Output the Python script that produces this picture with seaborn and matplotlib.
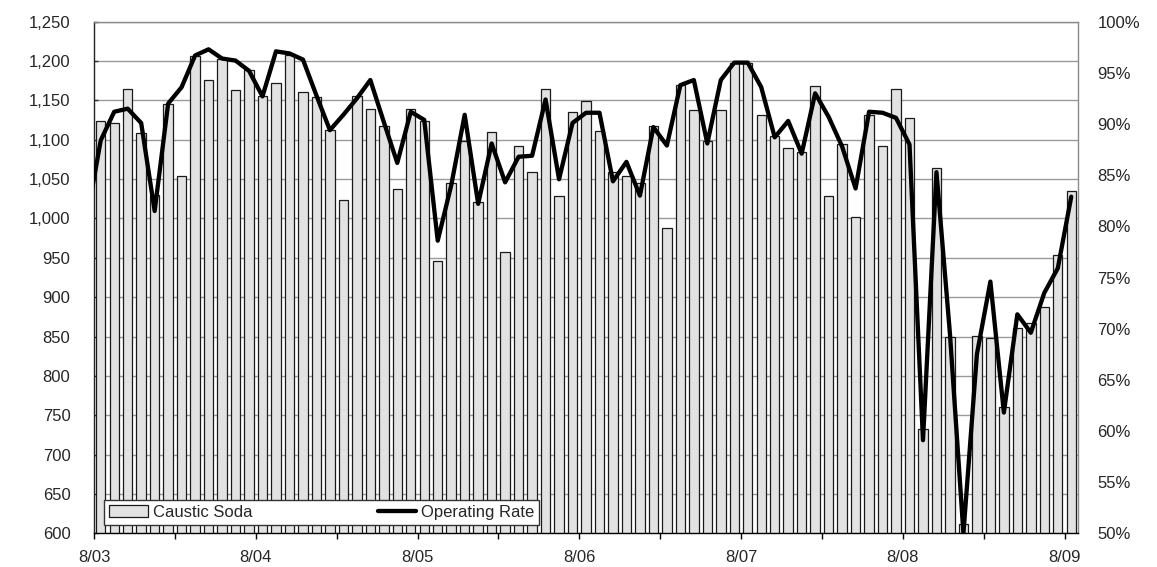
import numpy as np
import pandas as pd
import matplotlib
matplotlib.use("Agg")
import matplotlib.pyplot as plt
import seaborn as sns
from matplotlib.patches import Patch
from matplotlib.lines import Line2D

# ---------------- data ----------------
months = [p.strftime("%-m/%y") for p in pd.period_range("2003-08", periods=73, freq="M")]

caustic_soda = [1124, 1121, 1164, 1109, 1030, 1146, 1054, 1206, 1176, 1202, 1163, 1188,
                1155, 1172, 1208, 1161, 1154, 1113, 1024, 1155, 1139, 1118, 1037, 1139,
                1124, 946, 1045, 1098, 1021, 1110, 958, 1092, 1059, 1165, 1029, 1135,
                1149, 1111, 1059, 1054, 1045, 1118, 988, 1169, 1138, 1098, 1138, 1198,
                1198, 1131, 1105, 1090, 1084, 1168, 1028, 1095, 1002, 1131, 1092, 1164,
                1128, 732, 1064, 849, 612, 851, 848, 760, 861, 867, 887, 954,
                1035]

# operating rate (%), the series starts one month before the first bar (7/03)
rate_prior = [81.0]
operating_rate = [88.4, 91.2, 91.5, 90.1, 81.5, 92.0, 93.6, 96.7, 97.3, 96.4, 96.2, 95.2,
                  92.7, 97.1, 96.9, 96.3, 92.8, 89.4, 90.9, 92.5, 94.3, 90.2, 86.2, 91.2,
                  90.4, 78.6, 84.0, 90.9, 82.2, 88.1, 84.3, 86.8, 86.9, 92.4, 84.6, 90.1,
                  91.1, 91.1, 84.4, 86.3, 83.0, 89.7, 87.9, 93.8, 94.3, 88.1, 94.3, 96.0,
                  96.0, 93.6, 88.7, 90.3, 87.1, 93.0, 90.7, 87.8, 83.7, 91.2, 91.1, 90.6,
                  88.0, 59.1, 85.3, 69.5, 50.0, 67.5, 74.6, 61.8, 71.4, 69.6, 73.5, 75.9,
                  82.9]

x_tick_labels = ["8/03", "8/04", "8/05", "8/06", "8/07", "8/08", "8/09"]
left_ticks = list(range(600, 1251, 50))
right_ticks = list(range(50, 101, 5))
series_names = ["Caustic Soda", "Operating Rate"]

# ---------------- style ----------------
sns.set_style("white")
plt.rcParams['font.family'] = ['Liberation Sans', 'DejaVu Sans']
FS = 12

fig = plt.figure(figsize=(11.57, 5.67), dpi=100)
W, H = 1157, 567
L, R, T, B = 94, 1078, 21.7, 533.3
ax = fig.add_axes([L / W, 1 - B / H, (R - L) / W, (B - T) / H])

df = pd.DataFrame({"month": months, "soda": caustic_soda})
sns.barplot(data=df, x="month", y="soda", order=months, color="#E2E2E2",
            saturation=1, edgecolor="#1a1a1a", linewidth=0.9, width=0.7, ax=ax)

ax.set_ylim(600, 1250)
ax.set_yticks(left_ticks)
ax.set_yticklabels([f"{v:,}" for v in left_ticks], fontsize=FS)
ax.yaxis.grid(True, color="#9a9a9a", linewidth=1.0)
ax.set_axisbelow(True)
ax.set_xlabel("")
ax.set_ylabel("")

ax2 = ax.twinx()
line_x = np.arange(-len(rate_prior), len(operating_rate))
line_y = rate_prior + operating_rate
sns.lineplot(x=line_x, y=line_y, ax=ax2, color="black", linewidth=3.1,
             sort=False, estimator=None, legend=False)
ax2.set_ylim(50, 100)
ax2.set_yticks(right_ticks)
ax2.set_yticklabels([f"{v}%" for v in right_ticks], fontsize=FS)
ax2.set_ylabel("")
for s in ax2.spines.values():
    s.set_visible(False)

ax.set_xlim(-0.5, len(months) - 0.5)
ax.set_xticks(np.arange(-0.5, len(months) - 0.5, 6))
ax.set_xticklabels([x_tick_labels[i // 2] if i % 2 == 0 else "" for i in range(len(ax.get_xticks()))],
                   fontsize=FS)

ax.tick_params(axis="x", direction="out", length=4, width=1, color="black", pad=8, bottom=True)
ax.tick_params(axis="y", direction="in", length=3, width=1, color="#333333", pad=17, left=True)
ax2.tick_params(axis="y", length=0, pad=14)

for name, sp in ax.spines.items():
    sp.set_visible(True)
    sp.set_linewidth(1)
ax.spines["left"].set_color("#222222")
ax.spines["bottom"].set_color("black")
ax.spines["top"].set_color("#8a8a8a")
ax.spines["right"].set_color("#8a8a8a")

handles = [Patch(facecolor="#E2E2E2", edgecolor="#1a1a1a", linewidth=0.9),
           Line2D([], [], color="black", linewidth=3.1)]
lx0 = (104.3 - L) / (R - L)
ly0 = (B - 525) / (B - T)
lw = (539.3 - 104.3) / (R - L)
lh = 26 / (B - T)
leg = ax2.legend(handles, series_names, loc="lower left", bbox_to_anchor=(lx0, ly0, lw, lh),
                 mode="expand", ncol=2, fontsize=FS, frameon=True, fancybox=False,
                 borderaxespad=0, borderpad=0.3, handlelength=2.3, handletextpad=0.3,
                 columnspacing=0.9)
leg.get_frame().set_edgecolor("#333333")
leg.get_frame().set_linewidth(1)
leg.get_frame().set_facecolor("white")
leg.get_frame().set_alpha(1)

fig.savefig("out.png", dpi=100)
